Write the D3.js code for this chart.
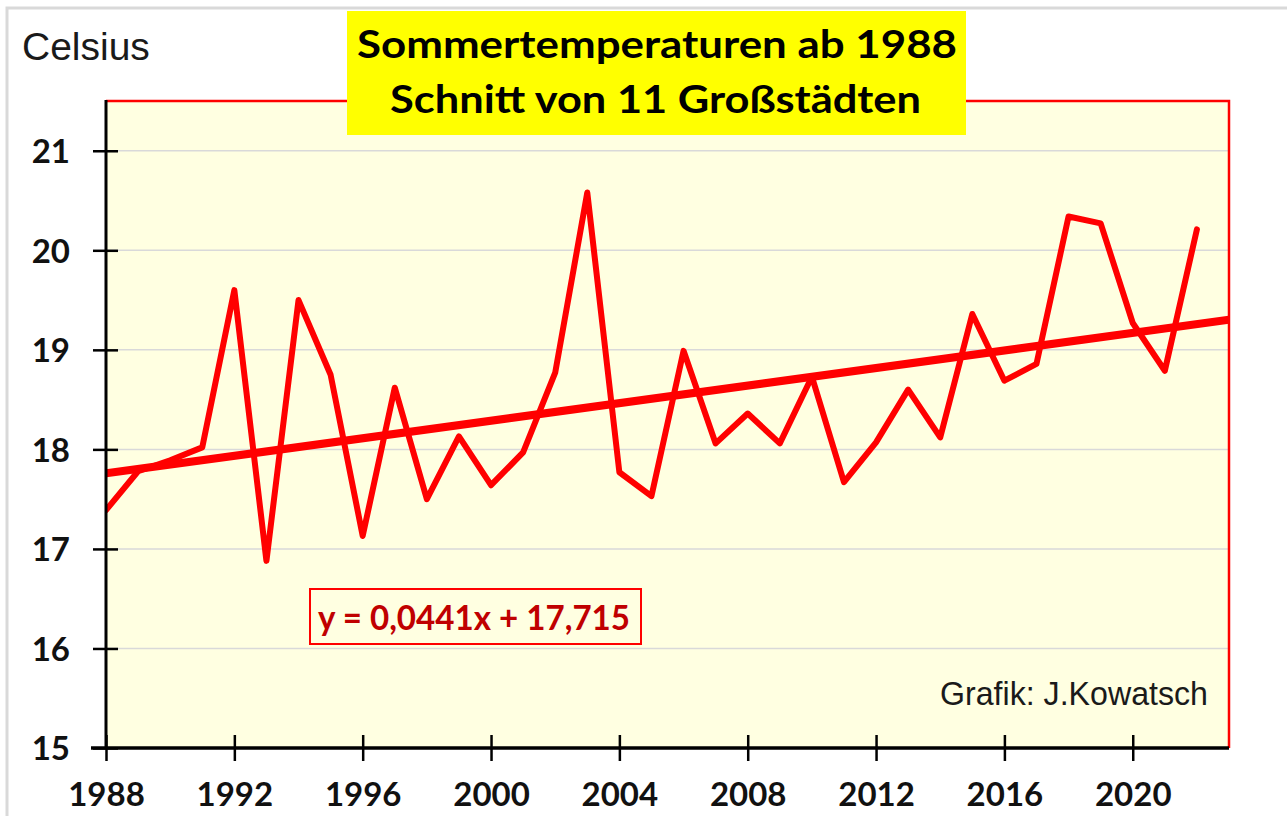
<!DOCTYPE html>
<html><head><meta charset="utf-8">
<script src="https://cdn.jsdelivr.net/npm/d3@7"></script>
<style>html,body{margin:0;padding:0;background:#fff;}svg{display:block;}</style>
</head><body>
<script>
// ---- data ----
const years = [1988,1989,1990,1991,1992,1993,1994,1995,1996,1997,1998,1999,2000,2001,2002,2003,2004,2005,2006,2007,2008,2009,2010,2011,2012,2013,2014,2015,2016,2017,2018,2019,2020,2021,2022];
const temps = [17.39,17.78,17.89,18.02,19.60,16.88,19.50,18.75,17.13,18.62,17.50,18.13,17.64,17.97,18.77,20.58,17.77,17.53,18.99,18.06,18.36,18.06,18.73,17.67,18.07,18.60,18.12,19.36,18.69,18.86,20.34,20.27,19.27,18.79,20.21];
const xTickValues = [1988,1992,1996,2000,2004,2008,2012,2016,2020];
const yTickValues = [15,16,17,18,19,20,21];
const trendSlope = 0.0441, trendIntercept = 17.715, trendBaseYear = 1987;
const xDomain = [1988, 2023];
const yDomain = [15, 21.5];
const titleLines = ["Sommertemperaturen ab 1988", "Schnitt von 11 Großstädten"];
const unitLabel = "Celsius";
const equationLabel = "y = 0,0441x + 17,715";
const creditLabel = "Grafik: J.Kowatsch";

// ---- layout ----
const W = 1287, H = 816;
const L = 106, R = 1229, T = 101, B = 748;
const svg = d3.select("body").append("svg").attr("width", W).attr("height", H);

// outer frame
svg.append("rect").attr("x",7).attr("y",8).attr("width",1300).attr("height",900)
  .attr("fill","none").attr("stroke","#d9d9d9").attr("stroke-width",3);

const x = d3.scaleLinear().domain(xDomain).range([L, R]);
const y = d3.scaleLinear().domain(yDomain).range([B, T]);

// plot background
svg.append("rect").attr("x",L).attr("y",T).attr("width",R-L).attr("height",B-T).attr("fill","#ffffe1");

// gridlines
svg.append("g").selectAll("line").data(yTickValues.filter(v=>v>15)).join("line")
  .attr("x1",L).attr("x2",R).attr("y1",d=>y(d)).attr("y2",d=>y(d))
  .attr("stroke","#d9d9d9").attr("stroke-width",1.5);

// red frame (top & right)
svg.append("path").attr("d",`M${L},${T}H${R}V${B}`).attr("fill","none")
  .attr("stroke","#ff0000").attr("stroke-width",2.5);

svg.append("clipPath").attr("id","clip").append("rect")
  .attr("x",L).attr("y",T).attr("width",R-L).attr("height",B-T);

// data line
const line = d3.line().x((d,i)=>x(years[i])).y(d=>y(d));
svg.append("path").datum(temps).attr("d",line).attr("fill","none")
  .attr("stroke","#ff0000").attr("stroke-width",6).attr("stroke-linejoin","round").attr("stroke-linecap","round")
  .attr("clip-path","url(#clip)");

// trend line
const trend = xDomain.map(yr => [yr, trendIntercept + trendSlope*(yr - trendBaseYear)]);
svg.append("path").datum(trend).attr("d", d3.line().x(d=>x(d[0])).y(d=>y(d[1])))
  .attr("fill","none").attr("stroke","#ff0000").attr("stroke-width",8).attr("clip-path","url(#clip)");

// axes
const yAxis = d3.axisLeft(y).tickValues(yTickValues).tickSizeInner(13).tickSizeOuter(0).tickPadding(24).tickFormat(d3.format("d"));
const gy = svg.append("g").attr("transform",`translate(${L},0)`).call(yAxis);
gy.select(".domain").remove();
gy.selectAll(".tick line").attr("x2",-13).attr("x1",12).attr("stroke","#000").attr("stroke-width",2.5);
gy.selectAll(".tick text").attr("font-family","Lato").attr("font-weight",700).attr("font-size",33).attr("fill","#111").attr("dy","0.36em").attr("x",-36);
svg.append("line").attr("x1",L).attr("x2",L).attr("y1",T-1).attr("y2",B+1).attr("stroke","#000").attr("stroke-width",3);

const xAxis = d3.axisBottom(x).tickValues(xTickValues).tickSizeOuter(0).tickFormat(d3.format("d"));
const gx = svg.append("g").attr("transform",`translate(0,${B})`).call(xAxis);
gx.select(".domain").remove();
gx.selectAll(".tick line").attr("y1",-13).attr("y2",13).attr("stroke","#000").attr("stroke-width",2.5);
gx.selectAll(".tick text").attr("font-family","Lato").attr("font-weight",700).attr("font-size",33).attr("fill","#111").attr("y",58).attr("dy",0);
svg.append("line").attr("x1",L-15).attr("x2",R).attr("y1",B).attr("y2",B).attr("stroke","#000").attr("stroke-width",3.5);

// unit label
svg.append("text").attr("x",22).attr("y",60).text(unitLabel)
  .attr("font-family","Liberation Sans, Arial").attr("font-size",39).attr("fill","#1a1a1a");

// title box
svg.append("rect").attr("x",347).attr("y",11).attr("width",619).attr("height",124).attr("fill","#ffff00");
const tb = [ {t:titleLines[0], x:357, y:57.5, w:600}, {t:titleLines[1], x:390, y:113, w:531} ];
svg.append("g").selectAll("text").data(tb).join("text")
  .attr("x",d=>d.x).attr("y",d=>d.y).text(d=>d.t)
  .attr("textLength",d=>d.w).attr("lengthAdjust","spacingAndGlyphs")
  .attr("font-family","Lato").attr("font-weight",700).attr("font-size",37.5).attr("fill","#000");

// equation box
svg.append("rect").attr("x",310).attr("y",589).attr("width",331).attr("height",55)
  .attr("fill","#ffffe1").attr("stroke","#ff0000").attr("stroke-width",2);
svg.append("text").attr("x",318).attr("y",630).text(equationLabel)
  .attr("textLength",312).attr("lengthAdjust","spacingAndGlyphs")
  .attr("font-family","Lato").attr("font-weight",700).attr("font-size",34).attr("fill","#c00000");

// credit
svg.append("text").attr("x",940).attr("y",705).text(creditLabel)
  .attr("textLength",268).attr("lengthAdjust","spacingAndGlyphs")
  .attr("font-family","Liberation Sans, Arial").attr("font-size",34).attr("fill","#1a1a1a");
</script>
</body></html>
